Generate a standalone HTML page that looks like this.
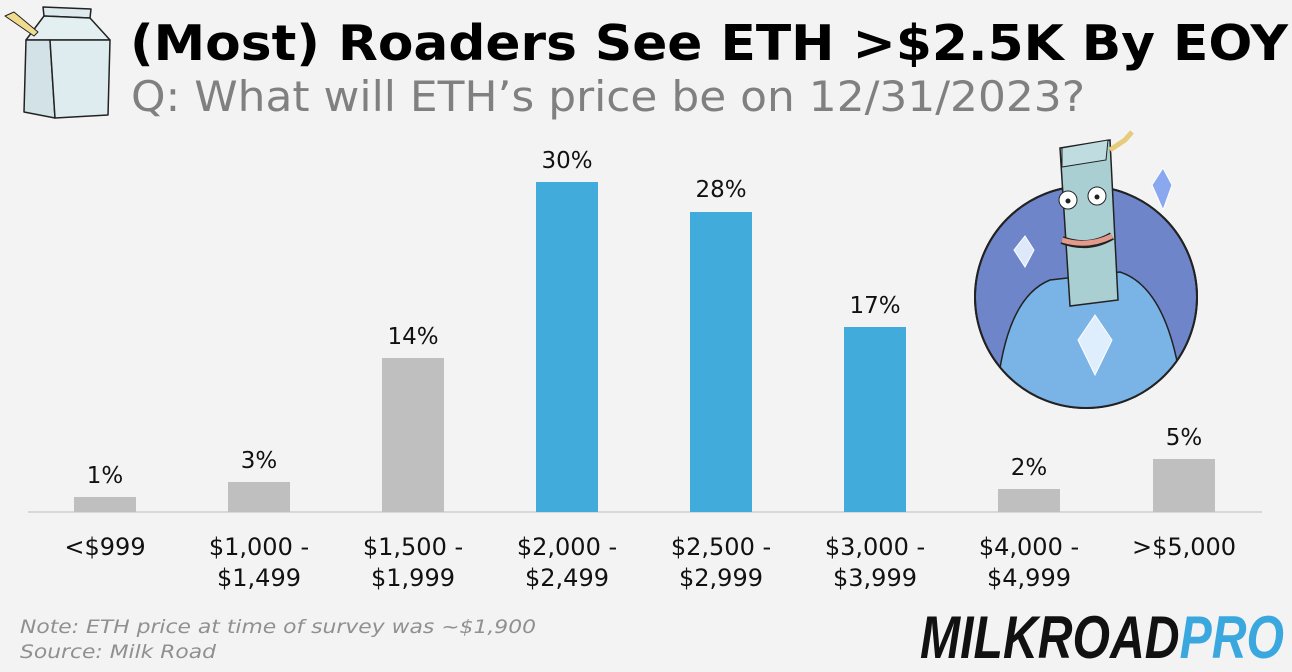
<!DOCTYPE html>
<html><head><meta charset="utf-8"><style>
html,body{margin:0;padding:0;background:#f3f3f3;}
svg{display:block;}
</style></head><body>
<svg width="1292" height="672" viewBox="0 0 1292 672" xmlns="http://www.w3.org/2000/svg">
<rect width="1292" height="672" fill="#f3f3f3"/>
<defs><clipPath id="c"><circle cx="1086" cy="297" r="111"/></clipPath></defs>
<!-- milk carton -->
<g stroke="#222" stroke-width="1.5" stroke-linejoin="round">
<path d="M43 7 L91 9 L90 18 L44 16 Z" fill="#dde9ec"/>
<path d="M44 16 L90 18 L110 40 L26 40 Z" fill="#e4eff1"/>
<path d="M26 40 L50 40 L55 118 L24 112 Z" fill="#d2e2e6"/>
<path d="M50 40 L110 40 L108 115 L55 118 Z" fill="#dfecef"/>
<path d="M5 16 L14 12 L38 32 L34 36 Z" fill="#f0dc8f" stroke-width="1"/>
</g>
<!-- title -->
<text x="130" y="60" font-family="DejaVu Sans, sans-serif" font-weight="bold" font-size="49" fill="#000" textLength="1158" lengthAdjust="spacingAndGlyphs">(Most) Roaders See ETH &gt;$2.5K By EOY</text>
<text x="131" y="111" font-family="DejaVu Sans, sans-serif" font-size="42" fill="#808080" textLength="954" lengthAdjust="spacingAndGlyphs">Q: What will ETH’s price be on 12/31/2023?</text>
<line x1="28" y1="512" x2="1262" y2="512" stroke="#d0d0d0" stroke-width="1.5"/>
<g>
<rect x="74" y="497" width="62" height="15" fill="#bfbfbf"/>
<rect x="228" y="482" width="62" height="30" fill="#bfbfbf"/>
<rect x="382" y="358" width="62" height="154" fill="#bfbfbf"/>
<rect x="536" y="182" width="62" height="330" fill="#41abdb"/>
<rect x="690" y="212" width="62" height="300" fill="#41abdb"/>
<rect x="844" y="327" width="62" height="185" fill="#41abdb"/>
<rect x="998" y="489" width="62" height="23" fill="#bfbfbf"/>
<rect x="1153" y="459" width="62" height="53" fill="#bfbfbf"/>
</g>
<g font-family="DejaVu Sans, sans-serif" font-size="23" fill="#111" text-anchor="middle">
<text x="105" y="483">1%</text>
<text x="259" y="468">3%</text>
<text x="413" y="344">14%</text>
<text x="567" y="168">30%</text>
<text x="721" y="197">28%</text>
<text x="875" y="313">17%</text>
<text x="1029" y="475">2%</text>
<text x="1184" y="445">5%</text>
</g>
<g font-family="DejaVu Sans, sans-serif" font-size="24" fill="#111" text-anchor="middle">
<text x="105" y="555">&lt;$999</text>
<text x="259" y="555">$1,000 -</text><text x="259" y="586">$1,499</text>
<text x="413" y="555">$1,500 -</text><text x="413" y="586">$1,999</text>
<text x="567" y="555">$2,000 -</text><text x="567" y="586">$2,499</text>
<text x="721" y="555">$2,500 -</text><text x="721" y="586">$2,999</text>
<text x="875" y="555">$3,000 -</text><text x="875" y="586">$3,999</text>
<text x="1029" y="555">$4,000 -</text><text x="1029" y="586">$4,999</text>
<text x="1184" y="555">&gt;$5,000</text>
</g>
<g font-family="DejaVu Sans, sans-serif" font-style="italic" font-size="19" fill="#909090">
<text x="20" y="633" textLength="516" lengthAdjust="spacingAndGlyphs">Note: ETH price at time of survey was ~$1,900</text>
<text x="20" y="658" textLength="196" lengthAdjust="spacingAndGlyphs">Source: Milk Road</text>
</g>
<text x="920" y="658" font-family="Liberation Sans, sans-serif" font-weight="bold" font-style="italic" font-size="60" textLength="364" lengthAdjust="spacingAndGlyphs"><tspan fill="#111">MILKROAD</tspan><tspan fill="#3aa8de">PRO</tspan></text>
<!-- character -->
<circle cx="1086" cy="297" r="111" fill="#6e86c9" stroke="#222" stroke-width="2"/>
<g clip-path="url(#c)">
<path d="M995 420 Q1000 300 1050 280 L1120 272 Q1175 290 1185 420 Z" fill="#7ab3e6" stroke="#222" stroke-width="1.5"/>
</g>
<circle cx="1086" cy="297" r="111" fill="none" stroke="#222" stroke-width="2"/>
<path d="M1060 148 L1110 140 L1118 300 L1070 306 Z" fill="#a9cfd3" stroke="#222" stroke-width="1.5"/>
<path d="M1062 148 L1108 140 L1106 160 L1062 167 Z" fill="#bfdde0" stroke="#222" stroke-width="1"/>
<circle cx="1068" cy="200" r="9" fill="#fff" stroke="#222"/><circle cx="1097" cy="196" r="9" fill="#fff" stroke="#222"/>
<circle cx="1068" cy="201" r="2.5" fill="#222"/><circle cx="1097" cy="197" r="2.5" fill="#222"/>
<path d="M1062 240 Q1088 250 1112 236" stroke="#222" stroke-width="8" fill="none"/>
<path d="M1062 240 Q1088 248 1112 236" stroke="#e49a8a" stroke-width="5" fill="none"/>
<path d="M1095 315 L1112 340 L1095 375 L1078 340 Z" fill="#dfeefc" stroke="#fff"/>
<path d="M1163 168 L1172 185 L1163 210 L1152 185 Z" fill="#8aa8f0" stroke="#fff"/>
<path d="M1025 236 L1034 250 L1025 267 L1014 250 Z" fill="#dde8fb" stroke="#fff"/>
<path d="M1110 150 L1125 140 L1132 132" stroke="#e6cc7a" stroke-width="5" fill="none"/>
</svg>
</body></html>
